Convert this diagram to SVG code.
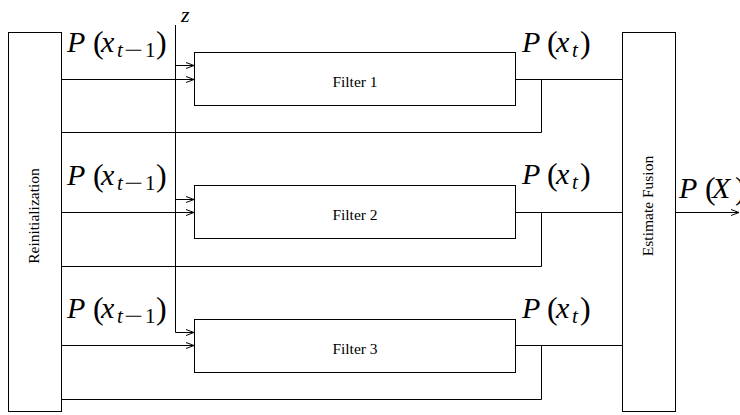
<svg xmlns="http://www.w3.org/2000/svg" width="740" height="415" viewBox="0 0 740 415">
<style>
.box{fill:#fff;stroke:#000;stroke-width:1}
.ln{fill:none;stroke:#000;stroke-width:1}
.lbl{font-family:"Liberation Serif","Times New Roman",serif;font-size:15.5px;fill:#000}
.m{font-family:"Liberation Serif","Times New Roman",serif;fill:#000}
.it{font-style:italic}
.big{font-size:30px}
.par{font-size:32px}
.sub{font-size:21px}
.zl{font-size:22px}
</style>
<defs>
<marker id="arr" markerWidth="10" markerHeight="8" refX="9" refY="4" orient="auto" markerUnits="userSpaceOnUse">
<path d="M1,1 L9,4 L1,7" fill="none" stroke="#000" stroke-width="1"/>
</marker>
</defs>
<rect width="740" height="415" fill="#fff"/>

<g id="connectors">
<path class="ln" d="M175.5,25 V332.5 H194" marker-end="url(#arr)"/>
<path class="ln" d="M175.5,65.5 H194" marker-end="url(#arr)"/>
<path class="ln" d="M175.5,199.5 H194" marker-end="url(#arr)"/>
<path class="ln" d="M61,79.5 H194" marker-end="url(#arr)"/>
<path class="ln" d="M61,212.5 H194" marker-end="url(#arr)"/>
<path class="ln" d="M61,345.5 H194" marker-end="url(#arr)"/>
<path class="ln" d="M515,79.5 H622"/>
<path class="ln" d="M515,212.5 H622"/>
<path class="ln" d="M515,345.5 H622"/>
<path class="ln" d="M541.5,79.5 V132.5 H61"/>
<path class="ln" d="M541.5,212.5 V266.5 H61"/>
<path class="ln" d="M541.5,345.5 V399.5 H61"/>
<path class="ln" d="M675,212.5 H739" marker-end="url(#arr)"/>
</g>

<g id="reinitialization">
<rect class="box" x="8.5" y="32.5" width="53" height="379"/>
<text class="lbl" transform="translate(39,216) rotate(-90)" text-anchor="middle">Reinitialization</text>
</g>

<g id="filter1">
<rect class="box" x="194.5" y="52.5" width="321" height="53"/>
<text class="lbl" x="355" y="87" text-anchor="middle">Filter 1</text>
</g>
<g id="filter2">
<rect class="box" x="194.5" y="185.5" width="321" height="53"/>
<text class="lbl" x="355" y="220" text-anchor="middle">Filter 2</text>
</g>
<g id="filter3">
<rect class="box" x="194.5" y="319.5" width="321" height="53"/>
<text class="lbl" x="355" y="354" text-anchor="middle">Filter 3</text>
</g>

<g id="fusion">
<rect class="box" x="622.5" y="32.5" width="53" height="379"/>
<text class="lbl" transform="translate(653,206) rotate(-90)" text-anchor="middle">Estimate Fusion</text>
</g>

<g id="labels">
<text class="m it zl" x="181" y="22">z</text>

<text class="m"><tspan class="it big" x="67" y="52">P</tspan><tspan class="par" x="93" y="53">(</tspan><tspan class="it big" x="101" y="52">x</tspan><tspan class="it sub" x="117" y="57">t</tspan><tspan class="sub" x="124" y="57" textLength="19" lengthAdjust="spacingAndGlyphs">−</tspan><tspan class="sub" x="145" y="57">1</tspan><tspan class="par" x="156" y="53">)</tspan></text>
<text class="m"><tspan class="it big" x="67" y="185">P</tspan><tspan class="par" x="93" y="186">(</tspan><tspan class="it big" x="101" y="185">x</tspan><tspan class="it sub" x="117" y="190">t</tspan><tspan class="sub" x="124" y="190" textLength="19" lengthAdjust="spacingAndGlyphs">−</tspan><tspan class="sub" x="145" y="190">1</tspan><tspan class="par" x="156" y="186">)</tspan></text>
<text class="m"><tspan class="it big" x="67" y="318">P</tspan><tspan class="par" x="93" y="319">(</tspan><tspan class="it big" x="101" y="318">x</tspan><tspan class="it sub" x="117" y="323">t</tspan><tspan class="sub" x="124" y="323" textLength="19" lengthAdjust="spacingAndGlyphs">−</tspan><tspan class="sub" x="145" y="323">1</tspan><tspan class="par" x="156" y="319">)</tspan></text>

<text class="m"><tspan class="it big" x="522" y="52">P</tspan><tspan class="par" x="547" y="53">(</tspan><tspan class="it big" x="556" y="52">x</tspan><tspan class="it sub" x="572" y="57">t</tspan><tspan class="par" x="580" y="53">)</tspan></text>
<text class="m"><tspan class="it big" x="522" y="184">P</tspan><tspan class="par" x="547" y="185">(</tspan><tspan class="it big" x="556" y="184">x</tspan><tspan class="it sub" x="572" y="189">t</tspan><tspan class="par" x="580" y="185">)</tspan></text>
<text class="m"><tspan class="it big" x="522" y="318">P</tspan><tspan class="par" x="547" y="319">(</tspan><tspan class="it big" x="556" y="318">x</tspan><tspan class="it sub" x="572" y="323">t</tspan><tspan class="par" x="580" y="319">)</tspan></text>

<text class="m"><tspan class="it big" x="679" y="198">P</tspan><tspan class="par" x="705" y="199">(</tspan><tspan class="it big" x="712" y="198">X</tspan><tspan class="par" x="735" y="199">)</tspan></text>
</g>
</svg>
